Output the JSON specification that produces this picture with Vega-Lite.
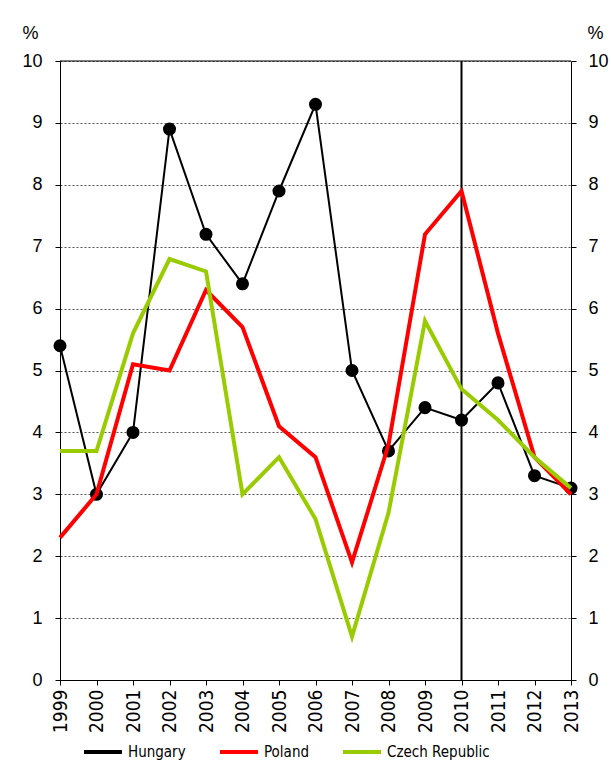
{
  "$schema": "https://vega.github.io/schema/vega-lite/v6.json",
  "width": 511,
  "height": 619,
  "autosize": {"type": "none"},
  "padding": {"left": 60, "top": 61, "right": 40, "bottom": 89},
  "background": "white",
  "config": {
    "view": {"stroke": null},
    "axis": {
      "labelFont": "Liberation Sans",
      "labelFontSize": 18,
      "labelColor": "#000",
      "domainColor": "#000",
      "tickColor": "#000",
      "titleFont": "Liberation Sans",
      "titleFontWeight": "normal",
      "titleFontSize": 18,
      "titleColor": "#000"
    },
    "axisX": {
      "labelOverlap": false,
      "labelFlush": false,
      "labelAngle": -90,
      "labelFont": "DejaVu Sans Condensed, DejaVu Sans",
      "labelFontSize": 19,
      "labelPadding": 4,
      "tickSize": 5,
      "grid": false
    }
  },
  "data": {
    "values": [
      {"year": 1999, "series": "Hungary", "value": 5.4},
      {"year": 2000, "series": "Hungary", "value": 3.0},
      {"year": 2001, "series": "Hungary", "value": 4.0},
      {"year": 2002, "series": "Hungary", "value": 8.9},
      {"year": 2003, "series": "Hungary", "value": 7.2},
      {"year": 2004, "series": "Hungary", "value": 6.4},
      {"year": 2005, "series": "Hungary", "value": 7.9},
      {"year": 2006, "series": "Hungary", "value": 9.3},
      {"year": 2007, "series": "Hungary", "value": 5.0},
      {"year": 2008, "series": "Hungary", "value": 3.7},
      {"year": 2009, "series": "Hungary", "value": 4.4},
      {"year": 2010, "series": "Hungary", "value": 4.2},
      {"year": 2011, "series": "Hungary", "value": 4.8},
      {"year": 2012, "series": "Hungary", "value": 3.3},
      {"year": 2013, "series": "Hungary", "value": 3.1},
      {"year": 1999, "series": "Poland", "value": 2.3},
      {"year": 2000, "series": "Poland", "value": 3.0},
      {"year": 2001, "series": "Poland", "value": 5.1},
      {"year": 2002, "series": "Poland", "value": 5.0},
      {"year": 2003, "series": "Poland", "value": 6.3},
      {"year": 2004, "series": "Poland", "value": 5.7},
      {"year": 2005, "series": "Poland", "value": 4.1},
      {"year": 2006, "series": "Poland", "value": 3.6},
      {"year": 2007, "series": "Poland", "value": 1.9},
      {"year": 2008, "series": "Poland", "value": 3.8},
      {"year": 2009, "series": "Poland", "value": 7.2},
      {"year": 2010, "series": "Poland", "value": 7.9},
      {"year": 2011, "series": "Poland", "value": 5.6},
      {"year": 2012, "series": "Poland", "value": 3.6},
      {"year": 2013, "series": "Poland", "value": 3.0},
      {"year": 1999, "series": "Czech Republic", "value": 3.7},
      {"year": 2000, "series": "Czech Republic", "value": 3.7},
      {"year": 2001, "series": "Czech Republic", "value": 5.6},
      {"year": 2002, "series": "Czech Republic", "value": 6.8},
      {"year": 2003, "series": "Czech Republic", "value": 6.6},
      {"year": 2004, "series": "Czech Republic", "value": 3.0},
      {"year": 2005, "series": "Czech Republic", "value": 3.6},
      {"year": 2006, "series": "Czech Republic", "value": 2.6},
      {"year": 2007, "series": "Czech Republic", "value": 0.7},
      {"year": 2008, "series": "Czech Republic", "value": 2.7},
      {"year": 2009, "series": "Czech Republic", "value": 5.8},
      {"year": 2010, "series": "Czech Republic", "value": 4.7},
      {"year": 2011, "series": "Czech Republic", "value": 4.2},
      {"year": 2012, "series": "Czech Republic", "value": 3.6},
      {"year": 2013, "series": "Czech Republic", "value": 3.1}
    ]
  },
  "layer": [
    {
      "transform": [{"filter": "datum.series === 'Hungary'"}],
      "mark": {"type": "line", "strokeWidth": 2},
      "encoding": {
        "x": {
          "field": "year", "type": "quantitative",
          "scale": {"domain": [1999, 2013], "nice": false, "zero": false},
          "axis": {
            "values": [1999, 2000, 2001, 2002, 2003, 2004, 2005, 2006, 2007, 2008, 2009, 2010, 2011, 2012, 2013],
            "format": "d", "title": null, "labelOverlap": false
          }
        },
        "y": {
          "field": "value", "type": "quantitative",
          "scale": {"domain": [0, 10], "nice": false},
          "axis": {
            "orient": "left", "values": [0, 1, 2, 3, 4, 5, 6, 7, 8, 9, 10],
            "grid": true, "gridDash": [2, 2], "gridColor": "#555", "gridWidth": 1,
            "title": "%", "titleAngle": 0, "titleX": -30, "titleY": -23,
            "titleAlign": "center", "titleBaseline": "alphabetic",
            "tickSize": 5, "labelPadding": 13
          }
        },
        "color": {
          "field": "series", "type": "nominal",
          "scale": {"domain": ["Hungary", "Poland", "Czech Republic"], "range": ["#000000", "#FF0000", "#99CC00"]},
          "legend": {
            "orient": "none", "legendX": 22, "legendY": 670, "direction": "horizontal", "title": null,
            "symbolType": "stroke", "symbolSize": 1444, "symbolStrokeWidth": 4,
            "labelFont": "DejaVu Sans Condensed, DejaVu Sans", "labelFontSize": 15, "labelColor": "#000",
            "columnPadding": 26, "labelOffset": 4
          }
        }
      }
    },
    {
      "data": {"values": [{"year": 2010}]},
      "mark": {"type": "rule", "color": "#000", "strokeWidth": 2},
      "encoding": {
        "x": {"field": "year", "type": "quantitative", "axis": {"values": [1999, 2000, 2001, 2002, 2003, 2004, 2005, 2006, 2007, 2008, 2009, 2010, 2011, 2012, 2013], "format": "d", "title": null, "labelOverlap": false}}
      }
    },
    {
      "data": {"values": [{"lvl": 10}]},
      "mark": {"type": "rule", "color": "#000", "strokeWidth": 1},
      "encoding": {
        "y": {"field": "lvl", "type": "quantitative", "axis": null}
      }
    },
    {
      "transform": [{"filter": "datum.series === 'Hungary'"}],
      "mark": {"type": "point", "filled": true, "size": 170, "opacity": 1},
      "encoding": {
        "x": {"field": "year", "type": "quantitative", "axis": {"values": [1999, 2000, 2001, 2002, 2003, 2004, 2005, 2006, 2007, 2008, 2009, 2010, 2011, 2012, 2013], "format": "d", "title": null, "labelOverlap": false}},
        "y": {"field": "value", "type": "quantitative", "axis": null},
        "color": {"field": "series", "type": "nominal"}
      }
    },
    {
      "transform": [{"filter": "datum.series === 'Poland'"}],
      "mark": {"type": "line", "strokeWidth": 4},
      "encoding": {
        "x": {"field": "year", "type": "quantitative", "axis": {"values": [1999, 2000, 2001, 2002, 2003, 2004, 2005, 2006, 2007, 2008, 2009, 2010, 2011, 2012, 2013], "format": "d", "title": null, "labelOverlap": false}},
        "y": {"field": "value", "type": "quantitative", "axis": null},
        "color": {"field": "series", "type": "nominal"}
      }
    },
    {
      "transform": [{"filter": "datum.series === 'Czech Republic'"}],
      "mark": {"type": "line", "strokeWidth": 4},
      "encoding": {
        "x": {"field": "year", "type": "quantitative", "axis": {"values": [1999, 2000, 2001, 2002, 2003, 2004, 2005, 2006, 2007, 2008, 2009, 2010, 2011, 2012, 2013], "format": "d", "title": null, "labelOverlap": false}},
        "y": {
          "field": "value", "type": "quantitative",
          "axis": {
            "orient": "right", "values": [0, 1, 2, 3, 4, 5, 6, 7, 8, 9, 10],
            "grid": false, "title": "%", "titleAngle": 0, "titleX": 24, "titleY": -23,
            "titleAlign": "center", "titleBaseline": "alphabetic",
            "tickSize": 5, "labelPadding": 12
          }
        },
        "color": {"field": "series", "type": "nominal"}
      }
    }
  ],
  "resolve": {"axis": {"y": "independent"}}
}
